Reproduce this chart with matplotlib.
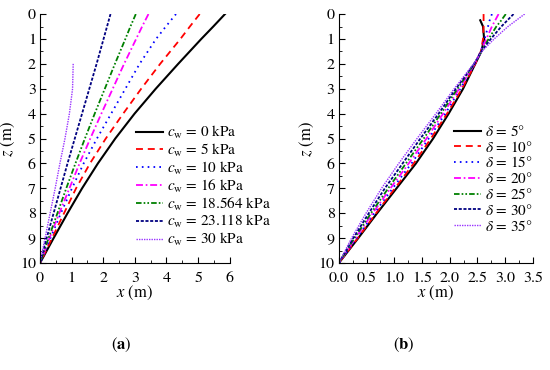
import numpy as np
import matplotlib
matplotlib.use("Agg")
import matplotlib.pyplot as plt
from matplotlib.ticker import MultipleLocator, FormatStrFormatter

plt.rcParams['font.family'] = ['STIXGeneral', 'Liberation Serif', 'DejaVu Serif']
plt.rcParams['mathtext.fontset'] = 'stix'
plt.rcParams['lines.scale_dashes'] = False

nan = np.nan

# ---- panel (a): wall cohesion c_w ----
z_a = [0, 0.5, 1, 2, 3, 4, 5, 6, 7, 8, 9, 10]
cw_labels = ['0', '5', '10', '16', '18.564', '23.118', '30']
x_cw0 = [5.85, 5.48, 5.10, 4.37, 3.66, 2.99, 2.38, 1.83, 1.33, 0.87, 0.43, 0]
x_cw5 = [5.05, 4.74, 4.44, 3.80, 3.20, 2.63, 2.08, 1.58, 1.14, 0.76, 0.38, 0]
x_cw10 = [4.30, 3.98, 3.67, 3.15, 2.70, 2.25, 1.80, 1.38, 1.01, 0.66, 0.33, 0]
x_cw16 = [3.43, 3.23, 3.04, 2.66, 2.30, 1.94, 1.59, 1.25, 0.93, 0.61, 0.30, 0]
x_cw18 = [3.03, 2.86, 2.70, 2.37, 2.05, 1.73, 1.42, 1.12, 0.83, 0.55, 0.27, 0]
x_cw23 = [2.23, 2.12, 2.01, 1.79, 1.56, 1.33, 1.10, 0.87, 0.65, 0.43, 0.21, 0]
x_cw30 = [nan, nan, nan, 1.05, 1.03, 0.93, 0.79, 0.63, 0.48, 0.32, 0.16, 0]

# ---- panel (b): wall friction angle delta ----
z_b = [0, 0.25, 0.5, 1.0, 1.5, 2, 3, 4, 5, 6, 7, 8, 9, 10]
delta_labels = ['5', '10', '15', '20', '25', '30', '35']
x_d5 = [nan, 2.55, 2.60, 2.62, 2.57, 2.46, 2.24, 1.98, 1.70, 1.39, 1.04, 0.69, 0.35, 0]
x_d10 = [2.61, 2.61, 2.61, 2.60, 2.56, 2.46, 2.22, 1.95, 1.66, 1.35, 1.01, 0.67, 0.34, 0]
x_d15 = [2.76, 2.72, 2.69, 2.63, 2.56, 2.45, 2.19, 1.92, 1.62, 1.31, 0.97, 0.64, 0.32, 0]
x_d20 = [2.88, 2.82, 2.76, 2.66, 2.56, 2.45, 2.17, 1.88, 1.58, 1.26, 0.93, 0.61, 0.30, 0]
x_d25 = [3.01, 2.93, 2.84, 2.70, 2.57, 2.44, 2.14, 1.84, 1.53, 1.21, 0.89, 0.58, 0.28, 0]
x_d30 = [3.15, 3.04, 2.93, 2.74, 2.57, 2.44, 2.11, 1.80, 1.47, 1.15, 0.83, 0.54, 0.26, 0]
x_d35 = [3.35, 3.20, 3.05, 2.80, 2.58, 2.43, 2.08, 1.75, 1.41, 1.08, 0.77, 0.49, 0.23, 0]

colors = ['black', '#ff0000', '#0000ff', '#ff00ff', '#008000', '#000080', '#9933ff']
dashes = [(None, None), (5, 3.5), (1.2, 3), (5, 2, 1.2, 2),
          (4, 1.5, 1.2, 1.5, 1.2, 1.5), (2.2, 1.2), (1, 0.8)]
widths = [1.5, 1.3, 1.3, 1.3, 1.3, 1.3, 1.0]

fig = plt.figure(figsize=(5.5, 3.7), dpi=100)
ax1 = fig.add_axes([0.0727, 0.289, 0.345, 0.673])
ax2 = fig.add_axes([0.616, 0.289, 0.353, 0.673])


def style_axis(ax):
    ax.spines['top'].set_visible(False)
    ax.spines['right'].set_visible(False)
    ax.set_ylim(10, 0)
    ax.yaxis.set_major_locator(MultipleLocator(1))
    ax.yaxis.set_minor_locator(MultipleLocator(0.5))
    ax.tick_params(which='both', direction='in', labelsize=11.5)
    ax.tick_params(axis='y', pad=3)
    ax.tick_params(axis='x', pad=6)
    ax.tick_params(which='major', length=4)
    ax.tick_params(which='minor', length=2)
    ax.set_xlabel(r'$x$ (m)', fontsize=12, labelpad=-1)
    ax.set_ylabel(r'$z$ (m)', fontsize=12, labelpad=2)


series_a = [x_cw0, x_cw5, x_cw10, x_cw16, x_cw18, x_cw23, x_cw30]
for xs, lab, c, d, w in zip(series_a, cw_labels, colors, dashes, widths):
    ln, = ax1.plot(xs, z_a, color=c, lw=w, label=r'$c_{\rm w}$ = ' + lab + ' kPa')
    if d[0] is not None:
        ln.set_dashes(d)
style_axis(ax1)
ax1.set_xlim(0, 6)
ax1.xaxis.set_major_locator(MultipleLocator(1))
ax1.xaxis.set_minor_locator(MultipleLocator(0.5))
ax1.legend(loc='upper left', bbox_to_anchor=(0.248, 0.665), bbox_transform=fig.transFigure,
           frameon=False, fontsize=11, handlelength=1.75, handletextpad=0.25,
           labelspacing=0.05, borderpad=0, borderaxespad=0)

series_b = [x_d5, x_d10, x_d15, x_d20, x_d25, x_d30, x_d35]
for xs, lab, c, d, w in zip(series_b, delta_labels, colors, dashes, widths):
    ln, = ax2.plot(xs, z_b, color=c, lw=w, label=r'$\delta$ = ' + lab + '°')
    if d[0] is not None:
        ln.set_dashes(d)
style_axis(ax2)
ax2.set_xlim(0, 3.5)
ax2.xaxis.set_major_locator(MultipleLocator(0.5))
ax2.xaxis.set_minor_locator(MultipleLocator(0.25))
ax2.xaxis.set_major_formatter(FormatStrFormatter('%.1f'))
ax2.legend(loc='upper left', bbox_to_anchor=(0.826, 0.665), bbox_transform=fig.transFigure,
           frameon=False, fontsize=11, handlelength=1.75, handletextpad=0.25,
           labelspacing=0.05, borderpad=0, borderaxespad=0)

fig.text(0.22, 0.068, r'($\mathbf{a}$)', ha='center', va='center', fontsize=12)
fig.text(0.735, 0.068, r'($\mathbf{b}$)', ha='center', va='center', fontsize=12)

fig.savefig('out.png', dpi=100)
